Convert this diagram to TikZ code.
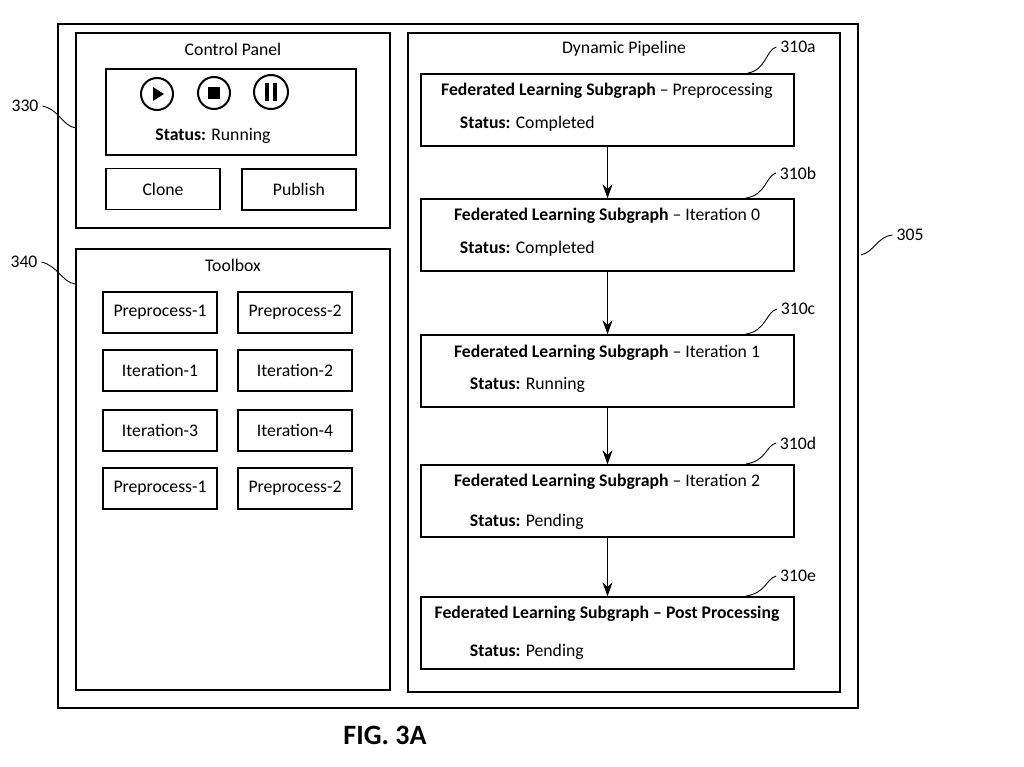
\documentclass[tikz,border=0pt]{standalone}
\usepackage{fontspec}
\setmainfont{Carlito}
\usetikzlibrary{calc}
\usetikzlibrary{arrows.meta}
\begin{document}
\begin{tikzpicture}[x=1pt,y=-1pt,line width=1.3pt,font=\fontsize{17.7}{20}\selectfont]
  \tikzset{
    box/.style={draw,rectangle},
    tool/.style={draw,rectangle,minimum width=114pt,minimum height=41pt},
    stage/.style={draw,rectangle,minimum width=373pt,minimum height=72pt},
    lead/.style={-,line width=0.9pt}
  }
  \useasboundingbox (0,0) rectangle (1024,767);
  % frames
  \node[box,minimum width=800pt,minimum height=684pt] (frame) at (458,366) {};
  \node[box,minimum width=314pt,minimum height=195pt] (ctrl) at (233,130.5) {};
  \node[box,minimum width=314pt,minimum height=441pt] (tbox) at (233,469.5) {};
  \node[box,minimum width=432pt,minimum height=659pt] (pipe) at (624,362.5) {};
  \node (ctrlt) at (233,49) {Control Panel};
  \node (tboxt) at (233,265) {Toolbox};
  \node (pipet) at (624,49) {Dynamic Pipeline};
  % control panel
  \node[box,minimum width=250pt,minimum height=86pt] (player) at (231,112) {};
  \node[draw,circle,line width=2pt,minimum size=32pt] (play) at (157,94) {};
  \fill ($(play)+(-4,-7)$) -- ($(play)+(7,0)$) -- ($(play)+(-4,7)$) -- cycle;
  \node[draw,circle,line width=2pt,minimum size=32pt] (stop) at (214,93) {};
  \fill ($(stop)+(-6,-6)$) rectangle ($(stop)+(6,6)$);
  \node[draw,circle,line width=2pt,minimum size=34pt] (pause) at (271,92) {};
  \fill ($(pause)+(-6,-9)$) rectangle ($(pause)+(-2,9)$);
  \fill ($(pause)+(2,-9)$) rectangle ($(pause)+(6,9)$);
  \node (run) at (213,136) {\textbf{Status:} Running};
  \node[tool] (clone) at (163,189) {Clone};
  \node[tool] (publish) at (299,189.5) {Publish};
  % toolbox
  \node[tool] (pre1) at (160,312.5) {Preprocess-1};
  \node[tool] (pre2) at (295,312.5) {Preprocess-2};
  \node[tool] (it1) [below of=pre1,node distance=58pt] {Iteration-1};
  \node[tool] (it2) [below of=pre2,node distance=58pt] {Iteration-2};
  \node[tool] (it3) [below of=it1,node distance=60pt] {Iteration-3};
  \node[tool] (it4) [below of=it2,node distance=60pt] {Iteration-4};
  \node[tool] (pre3) [below of=it3,node distance=58pt] {Preprocess-1};
  \node[tool] (pre4) [below of=it4,node distance=58pt] {Preprocess-2};
  % pipeline
  \node[stage] (s1) at (607.5,110) {};
  \node[stage] (s2) at (607.5,235) {};
  \node[stage] (s3) at (607.5,371) {};
  \node[stage] (s4) at (607.5,501) {};
  \node[stage] (s5) at (607.5,633) {};
  \node (s1a) at (607,91) {\textbf{Federated Learning Subgraph} -- Preprocessing};
  \node[anchor=west] (s1b) at (456,124) {\textbf{Status:} Completed};
  \node (s2a) at (607,216) {\textbf{Federated Learning Subgraph} -- Iteration 0};
  \node[anchor=west] (s2b) at (456,249) {\textbf{Status:} Completed};
  \node (s3a) at (607,353) {\textbf{Federated Learning Subgraph} -- Iteration 1};
  \node[anchor=west] (s3b) at (466,385) {\textbf{Status:} Running};
  \node (s4a) at (607,482) {\textbf{Federated Learning Subgraph} -- Iteration 2};
  \node[anchor=west] (s4b) at (466,522) {\textbf{Status:} Pending};
  \node (s5a) at (607,614) {\textbf{Federated Learning Subgraph -- Post Processing}};
  \node[anchor=west] (s5b) at (466,652) {\textbf{Status:} Pending};
  \path[-{Stealth[length=14pt,width=10pt]}] (s1) edge (s2);
  \path[-{Stealth[length=14pt,width=10pt]}] (s2) edge (s3);
  \path[-{Stealth[length=14pt,width=10pt]}] (s3) edge (s4);
  \path[-{Stealth[length=14pt,width=10pt]}] (s4) edge (s5);
  % reference labels
  \node (l330) at (25,106) {330};
  \node (l340) at (24,262) {340};
  \node (l305) at (910,235) {305};
  \node (la) at (798,47) {310a};
  \node (lb) at (798,173) {310b};
  \node (lc) at (798,309) {310c};
  \node (ld) at (798,443) {310d};
  \node (le) at (798,576) {310e};
  \draw[lead] (l330.east) .. controls (60,110) and (62,126) .. (76,128);
  \draw[lead] (l340.east) .. controls (58,266) and (62,282) .. (75,284);
  \draw[lead] (l305.west) .. controls (878,236) and (874,252) .. (861,255);
  \draw[lead] (la.west) .. controls (766,50) and (766,70) .. (748,73);
  \draw[lead] (lb.west) .. controls (766,176) and (766,195) .. (746,198);
  \draw[lead] (lc.west) .. controls (766,312) and (766,331) .. (746,334);
  \draw[lead] (ld.west) .. controls (766,446) and (766,461) .. (746,464);
  \draw[lead] (le.west) .. controls (766,579) and (766,593) .. (746,596);
  \node[font=\fontsize{28}{32}\selectfont\bfseries] (fig) at (385,735) {FIG. 3A};
\end{tikzpicture}
\end{document}
